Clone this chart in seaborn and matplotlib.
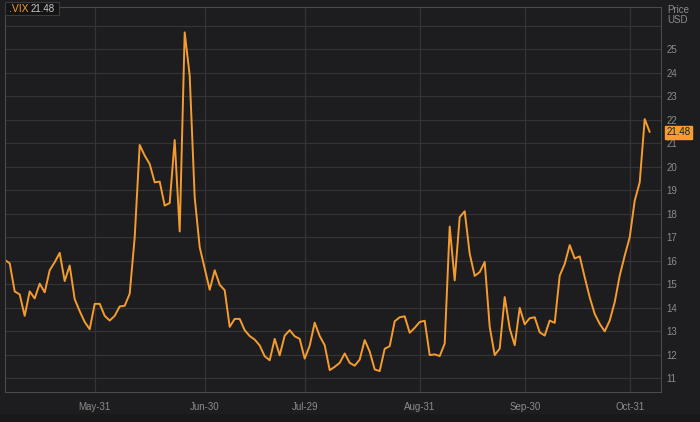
import numpy as np
import pandas as pd
import matplotlib
matplotlib.use("Agg")
import matplotlib.pyplot as plt
import seaborn as sns
from matplotlib.patches import Rectangle

# --- Data (VIX daily close, trading days May-04 .. Nov-04) ---
symbol = ".VIX"
last_price = 21.48
holidays = ["2016-05-30", "2016-07-04", "2016-09-05"]
tick_dates = ["2016-05-31", "2016-06-30", "2016-07-29", "2016-08-31", "2016-09-30", "2016-10-31"]
tick_labels = ["May-31", "Jun-30", "Jul-29", "Aug-31", "Sep-30", "Oct-31"]
y_ticks = list(range(11, 26))

vix = [16.04, 15.90, 14.70, 14.57, 13.66, 14.70, 14.40, 15.03, 14.66, 15.60,
       15.94, 16.34, 15.14, 15.80, 14.37, 13.86, 13.40, 13.09, 14.17, 14.17,
       13.66, 13.46, 13.66, 14.06, 14.09, 14.60, 17.00, 20.93, 20.48, 20.12,
       19.34, 19.37, 18.35, 18.46, 21.14, 17.25, 25.72, 23.88, 18.70, 16.58,
       15.68, 14.77, 15.60, 14.98, 14.75, 13.19, 13.53, 13.53, 13.05, 12.80,
       12.65, 12.40, 11.94, 11.77, 12.68, 11.98, 12.82, 13.05, 12.79, 12.68,
       11.84, 12.39, 13.37, 12.80, 12.41, 11.35, 11.49, 11.66, 12.06, 11.66,
       11.54, 11.80, 12.63, 12.14, 11.38, 11.31, 12.26, 12.37, 13.43, 13.60,
       13.64, 12.94, 13.15, 13.40, 13.45, 11.99, 12.02, 11.95, 12.48, 17.46,
       15.17, 17.86, 18.11, 16.30, 15.36, 15.52, 15.95, 13.19, 11.99, 12.27,
       14.46, 13.12, 12.41, 14.00, 13.30, 13.56, 13.60, 12.96, 12.82, 13.46,
       13.36, 15.37, 15.87, 16.67, 16.10, 16.19, 15.30, 14.45, 13.74, 13.32,
       13.00, 13.46, 14.24, 15.37, 16.22, 17.00, 18.56, 19.34, 22.03, 21.48]

dates = pd.bdate_range("2016-05-04", "2016-11-04", freq="C", holidays=holidays)
df = pd.DataFrame({"date": dates, "pos": np.arange(len(dates)), "vix": vix})
tick_pos = [int(df.index[df["date"] == pd.Timestamp(d)][0]) for d in tick_dates]

# --- Style ---
bg = "#1d1d1f"
grid_c = "#343436"
text_c = "#8c8c8c"
orange = "#f49c2f"

sns.set_theme(style="dark")
plt.rcParams["font.family"] = ["Liberation Sans", "DejaVu Sans"]

fig = plt.figure(figsize=(7, 4.22), dpi=100, facecolor=bg)

# slightly darker strip along the bottom edge
fig.patches.append(Rectangle((0, 0), 1, 8 / 422, transform=fig.transFigure,
                             fc="#19191a", ec="none", zorder=0))

ax = fig.add_axes([0.0067, 0.0711, 0.9376, 0.9123])
ax.set_facecolor(bg)

sns.lineplot(data=df, x="pos", y="vix", color=orange, linewidth=1.4, ax=ax)

ax.set_xlim(0, 131.26)
ax.set_ylim(10.42, 26.8)
ax.set_xticks(tick_pos)
ax.set_xticklabels(tick_labels)
ax.set_yticks(y_ticks + [26])
ax.set_yticklabels([str(t) for t in y_ticks] + [""])
ax.yaxis.tick_right()
ax.tick_params(axis="both", colors=text_c, labelsize=7, length=0)
ax.tick_params(axis="y", pad=4)
ax.tick_params(axis="x", pad=7)
ax.grid(True, color=grid_c, linewidth=0.9)
ax.set_xlabel("")
ax.set_ylabel("")
for side in ["left", "right", "bottom", "top"]:
    ax.spines[side].set_visible(True)
    ax.spines[side].set_color("#4a4a4c")
    ax.spines[side].set_linewidth(0.8)

# unit label on the price axis
ax.text(1.01, 1.005, "Price\nUSD", transform=ax.transAxes, ha="left", va="top",
        fontsize=7, color=text_c, linespacing=1.0)

# last price marker on the right axis
ax.annotate(f"{last_price:.2f}", xy=(1.0, last_price), xycoords=("axes fraction", "data"),
            xytext=(4, 0), textcoords="offset points", ha="left", va="center",
            fontsize=7, color="#1d1d1f",
            bbox=dict(boxstyle="square,pad=0.15", fc=orange, ec=orange))

# symbol box in the top-left corner
fig.patches.append(Rectangle((5 / 700, 1 - 15 / 422), 54 / 700, 13 / 422,
                             transform=fig.transFigure, fc="#141415", ec="#3a3a3c", lw=0.8))
fig.text(9 / 700, 1 - 8.5 / 422, symbol, ha="left", va="center", fontsize=7.5, color=orange)
fig.text(31 / 700, 1 - 8.5 / 422, f"{last_price:.2f}", ha="left", va="center", fontsize=7,
         color="#c8c8c8")

plt.savefig("out.png", dpi=100, facecolor=bg)
